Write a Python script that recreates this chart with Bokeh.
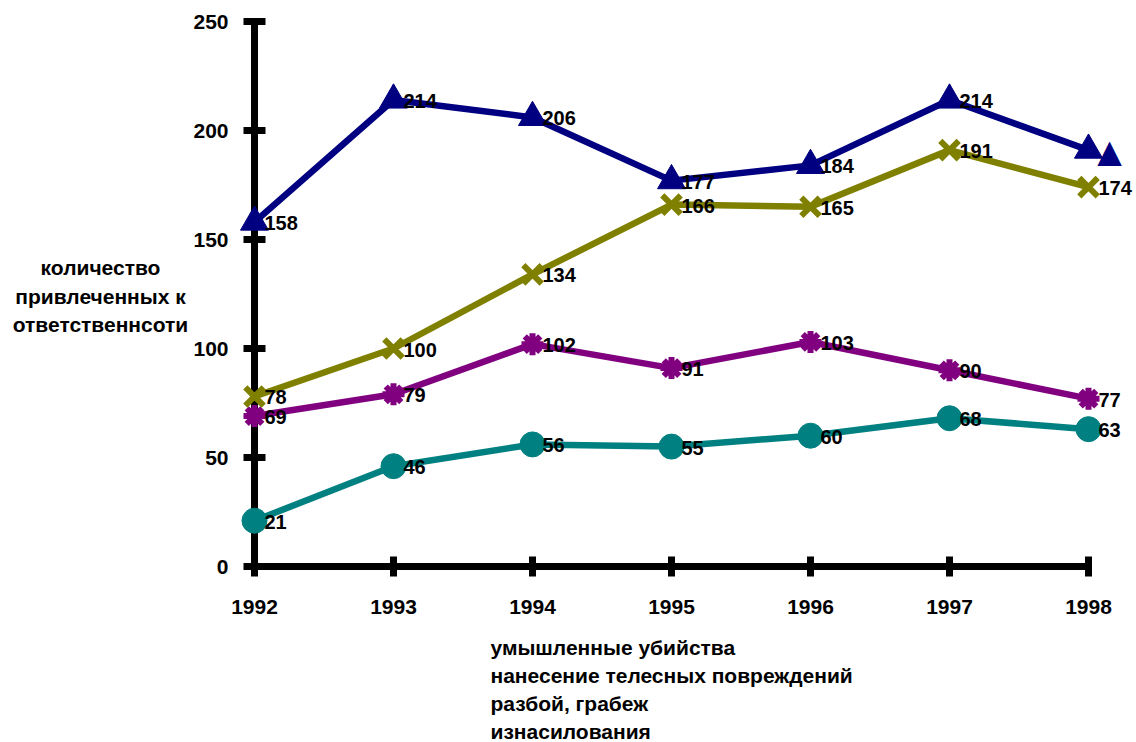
import math
from bokeh.plotting import figure
from bokeh.layouts import row, column
from bokeh.models import FixedTicker, Range1d
from bokeh.core.properties import value
from bokeh.embed import file_html
from bokeh.resources import INLINE

# ---------------- data ----------------
years = [1992, 1993, 1994, 1995, 1996, 1997, 1998]
series_navy = [158, 214, 206, 177, 184, 214, 191]
series_olive = [78, 100, 134, 166, 165, 191, 174]
series_purple = [69, 79, 102, 91, 103, 90, 77]
series_teal = [21, 46, 56, 55, 60, 68, 63]
y_ticks = [0, 50, 100, 150, 200, 250]
y_title_lines = ["количество", "привлеченных к", "ответственнсоти"]
legend_lines = ["умышленные убийства", "нанесение телесных повреждений",
                "разбой, грабеж", "изнасилования"]

# ---------------- geometry ----------------
W, H = 1136, 742
WL = 190                      # side panel holding the y-axis title
W2 = W - WL
FRAME_LEFT = 238
BL, BR, BT, BB = FRAME_LEFT - WL, 0, 0, 35
FH = 592
H1 = BT + FH + BB             # height of the chart row
HL = H - H1                   # height of the legend strip below
FW = W2 - BL - BR
SX = 834 / 6.0        # px per year
SY = 545 / 250.0      # px per unit
x0 = years[0] - 16 / SX
y0 = -26 / SY
FONT = "Liberation Sans"


def bare(width, height, xr, yr, left=0, bottom=0):
    f = figure(width=width, height=height, output_backend="svg", toolbar_location=None,
               x_range=xr, y_range=yr, x_axis_type=None, y_axis_type=None,
               min_border_left=left, min_border_right=0, min_border_top=0,
               min_border_bottom=bottom)
    f.outline_line_color = None
    f.grid.visible = False
    return f


# ---------- side panel: y-axis title (centred lines) ----------
pt = bare(WL, H1, Range1d(0, WL), Range1d(FH, 0), bottom=BB)
pt.text(x=[100] * len(y_title_lines), y=[267 + 28.5 * i for i in range(len(y_title_lines))],
        text=y_title_lines, text_align="center", text_baseline="middle",
        text_color="black", text_font=value(FONT), text_font_style="bold",
        text_font_size="21px")

# ---------- main chart ----------
p = figure(width=W2, height=H1, output_backend="svg", toolbar_location=None,
           x_range=Range1d(x0, x0 + FW / SX), y_range=Range1d(y0, y0 + FH / SY),
           min_border_left=BL, min_border_right=BR, min_border_top=BT,
           min_border_bottom=BB)
p.outline_line_color = None
p.grid.visible = False
p.background_fill_color = "white"
p.border_fill_color = "white"

for ax, ticks, standoff in ((p.xaxis[0], years, 1), (p.yaxis[0], y_ticks, 10)):
    ax.ticker = FixedTicker(ticks=ticks)
    ax.axis_line_color = None
    ax.major_tick_line_color = None
    ax.minor_tick_line_color = None
    ax.major_label_text_font = FONT
    ax.major_label_text_font_style = "bold"
    ax.major_label_text_font_size = "21px"
    ax.major_label_text_color = "black"
    ax.major_label_standoff = standoff
p.yaxis[0].major_tick_out = 0
p.yaxis[0].major_tick_in = 0

# axes drawn at x=1992 and y=0
p.segment(x0=[years[0], years[0]], y0=[y_ticks[0], y_ticks[0]],
          x1=[years[-1], years[0]], y1=[y_ticks[0], y_ticks[-1]],
          line_width=7, line_color="black", line_cap="round")
p.scatter(x=[years[0]] * len(y_ticks), y=y_ticks, marker="dash", size=22,
          line_width=7, line_color="black")
p.scatter(x=years, y=[y_ticks[0]] * len(years), marker="dash", angle=math.pi / 2,
          size=20, line_width=7, line_color="black")

styles = [
    (series_teal, "#008080", "circle", 25, 1),
    (series_purple, "#800080", "asterisk", 22, 6),
    (series_olive, "#808000", "x", 26, 6),
    (series_navy, "#000080", "triangle", 28, 1),
]
for vals, col, mk, sz, lw in styles:
    p.line(years, vals, line_color=col, line_width=6.5)
    p.scatter(years, vals, marker=mk, size=sz, line_color=col, fill_color=col,
              line_width=lw)

# extra navy triangle beside the last point
p.text(x=[years[-1]], y=[series_navy[-1]], text=["▲"], x_offset=21, y_offset=1,
       text_align="center", text_baseline="middle", text_color="#000080",
       text_font=value("DejaVu Sans"), text_font_size="32px")

for vals, col, mk, sz, lw in styles:
    vv = vals if vals is not series_navy else vals[:-1]
    p.text(x=years[:len(vv)], y=vv, text=[str(v) for v in vv], x_offset=10, y_offset=1,
           text_align="left", text_baseline="middle", text_color="black",
           text_font=value(FONT), text_font_style="bold", text_font_size="20px")

# ---------- legend strip (text only, as in the original) ----------
pl = bare(W, HL, Range1d(0, W - FRAME_LEFT), Range1d(HL, 0), left=FRAME_LEFT)
pl.text(x=[490 - FRAME_LEFT] * len(legend_lines),
        y=[647 - H1 + 28 * i for i in range(len(legend_lines))],
        text=legend_lines, text_align="left", text_baseline="middle",
        text_color="black", text_font=value(FONT), text_font_style="bold",
        text_font_size="21px")

layout = column(row(pt, p, spacing=0), pl, spacing=0)
open("out.html", "w").write(file_html(layout, INLINE))
